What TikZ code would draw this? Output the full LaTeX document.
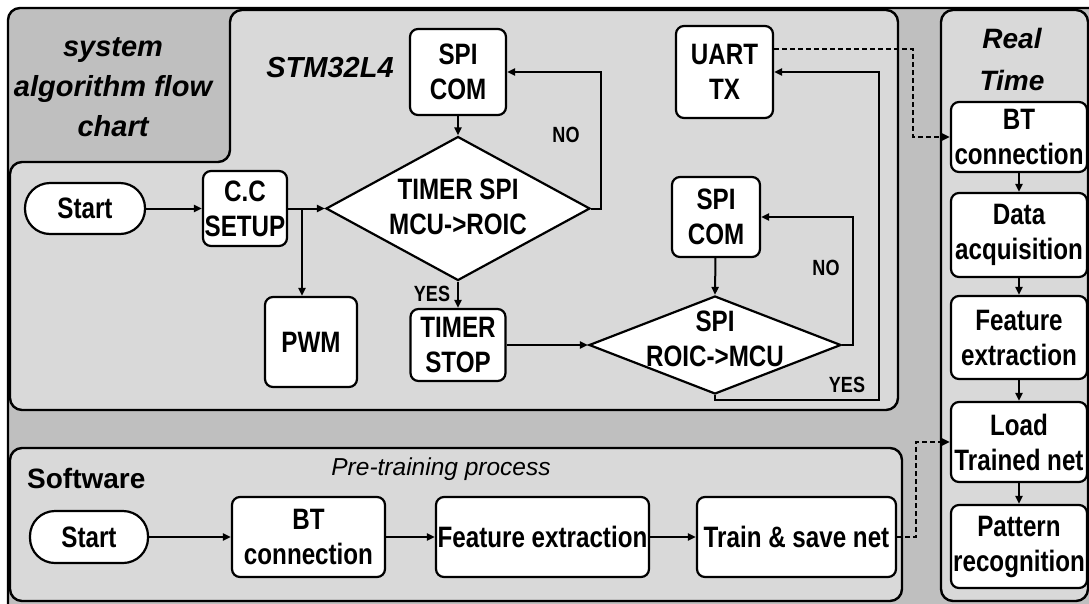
\documentclass[tikz,border=0pt]{standalone}
\usepackage{fontspec}
\setmainfont{Liberation Sans}
\newfontfamily\narrowfont[FakeStretch=0.82]{Liberation Sans}
\usetikzlibrary{arrows.meta,shapes.geometric}
\definecolor{frameGray}{RGB}{191,191,191}
\definecolor{panelGray}{RGB}{217,217,217}

\begin{document}
\begin{tikzpicture}[x=1pt,y=-1pt,
  every node/.style={inner sep=0pt},
  box/.style={draw, fill=white, line width=2.2pt, rounded corners=8pt, align=center,
    font=\narrowfont\bfseries\fontsize{29.5}{35}\selectfont},
  pill/.style={box, rounded corners=25pt},
  dia/.style={draw, fill=white, diamond, line width=2.2pt},
  txt/.style={align=center, font=\narrowfont\bfseries\fontsize{29.5}{35}\selectfont},
  tag/.style={font=\narrowfont\bfseries\fontsize{22}{26}\selectfont},
  head/.style={align=center, font=\bfseries\itshape\fontsize{29}{40}\selectfont},
  panel/.style={draw, fill=panelGray, line width=2.4pt, rounded corners=12pt},
  arr/.style={line width=2pt, -{Triangle[length=8pt,width=7pt]}},
  link/.style={line width=2pt, dash pattern=on 5pt off 3pt, -{Triangle[length=8pt,width=7pt]}},
]
\clip (0,0) rectangle (1089,603);

% frame and panels
\draw[fill=frameGray, line width=2.4pt, rounded corners=12pt] (8,8) rectangle (1110,620);
\draw[panel] (10,410) -- (10,162) -- (230,162) -- (230,10) -- (898,10) -- (898,410) -- cycle;
\draw[panel] (10,448) rectangle (902,601);
\draw[panel] (941,10) rectangle (1088,601);

% headings
\node[head] (sysT) at (113,87) {system\\algorithm flow\\chart};
\node[head] (stmT) at (330,68) {STM32L4};
\node[head, font=\bfseries\itshape\fontsize{28}{42}\selectfont] (rtT) at (1012,59) {Real\\Time};
\node[font=\bfseries\fontsize{28}{34}\selectfont, anchor=west] (swT) at (27,478) {Software};
\node[font=\itshape\fontsize{24.5}{30}\selectfont] (ptT) at (441,469) {Pre-training process};

% STM32L4 flow
\node[pill, minimum width=120pt, minimum height=51pt] (s1) at (85,208.5) {Start};
\node[box, minimum width=84pt, minimum height=75pt] (cc) at (245,208.5) {C.C\\SETUP};
\node[box, minimum width=96pt, minimum height=86pt] (spi1) at (458,72) {SPI\\COM};
\node[dia, minimum width=264pt, minimum height=144pt] (d1) at (458,208.5) {};
\node[txt] (d1t) at (458,207) {TIMER SPI\\MCU->ROIC};
\node[box, minimum width=92pt, minimum height=90pt] (pwm) at (311,342) {PWM};
\node[box, minimum width=95pt, minimum height=72pt] (ts) at (458,345) {TIMER\\STOP};
\node[dia, minimum width=252pt, minimum height=98pt] (d2) at (715,345) {};
\node[txt] (d2t) at (715,339) {SPI\\ROIC->MCU};
\node[box, minimum width=88pt, minimum height=80pt] (spi2) at (716,217) {SPI\\COM};
\node[box, minimum width=97pt, minimum height=92pt] (uart) at (724.5,72) {UART\\TX};

\node[tag] (no1) at (566,135) {NO};
\node[tag] (yes1) at (432,294) {YES};
\node[tag] (no2) at (826,268) {NO};
\node[tag] (yes2) at (847,385) {YES};

\coordinate (br) at (302,208.5);
\coordinate (r3) at (879,400);
\coordinate (dj) at (913,49);

\draw[arr] (s1) -- (cc);
\draw[arr] (cc.east) -- (d1.west);
\draw[arr] (br) -- (br |- pwm.north);
\draw[arr] (spi1) -- (d1.north);
\draw[arr] (d1.east) -- ++(10,0) |- (spi1.east);
\draw[arr] (d1.south) -- (ts.north);
\draw[arr] (ts.east) -- (d2.west);
\draw[arr] (spi2) -- (d2.north);
\draw[arr] (d2.east) -- ++(11,0) |- (spi2.east);
\draw[arr] (d2.south) |- (r3) |- (uart.east);

% software flow
\node[pill, minimum width=118pt, minimum height=52pt] (s2) at (89,537) {Start};
\node[box, minimum width=153pt, minimum height=80pt] (bt2) at (308.5,537) {BT\\connection};
\node[box, minimum width=213pt, minimum height=80pt] (fe2) at (542.5,537) {Feature extraction};
\node[box, minimum width=199pt, minimum height=80pt] (train) at (796.5,537) {Train \& save net};

\draw[arr] (s2) -- (bt2);
\draw[arr] (bt2) -- (fe2);
\draw[arr] (fe2) -- (train);

% real time flow
\node[box, minimum width=136pt, minimum height=70pt] (rbt) at (1019,137) {BT\\connection};
\node[box, minimum width=136pt, minimum height=84pt] (daq) at (1019,235) {Data\\acquisition};
\node[box, minimum width=136pt, minimum height=83pt] (rfe) at (1019,337.5) {Feature\\extraction};
\node[box, minimum width=136pt, minimum height=80pt] (load) at (1019,442) {Load\\Trained net};
\node[box, minimum width=136pt, minimum height=83pt] (pat) at (1019,546.5) {Pattern\\recognition};

\draw[arr] (rbt) -- (daq);
\draw[arr] (daq) -- (rfe);
\draw[arr] (rfe) -- (load);
\draw[arr] (load) -- (pat);

% links between the panels
\coordinate (dk) at (916,537);
\draw[link] (train.east) -- (dk) |- (load.west);
\draw[link] (uart.east |- dj) -- (dj) |- (rbt.west);
\end{tikzpicture}
\end{document}
